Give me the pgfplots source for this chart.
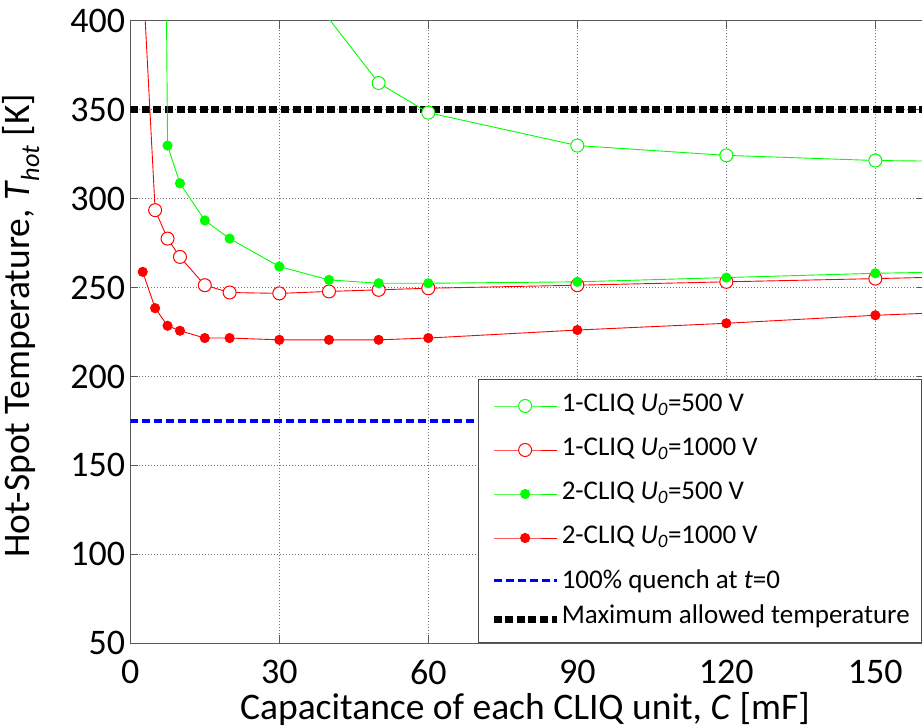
\documentclass[border=0pt]{standalone}
\usepackage{fontspec}
\setmainfont{Carlito}
\usepackage{pgfplots}
\pgfplotsset{compat=1.18}
\definecolor{mgreen}{rgb}{0,1,0}
\definecolor{mred}{rgb}{1,0,0}
\begin{document}
\begin{tikzpicture}
\begin{axis}[
  scale only axis,
  width=794.7pt, height=622.6pt,
  xmin=0, xmax=160, ymin=50, ymax=400,
  xtick={0,30,60,90,120,150},
  ytick={50,100,150,200,250,300,350,400},
  /pgf/number format/assume math mode=true,
  tick label style={font=\fontsize{36}{40}\selectfont, black},
  xticklabel style={anchor=north, inner sep=0pt, yshift=-17pt},
  yticklabel style={anchor=east, inner sep=0pt, xshift=-5pt},
  tick align=inside,
  major tick length=8pt,
  tick style={black!65, line width=1pt},
  axis line style={black!65, line width=1pt},
  grid=major,
  major grid style={black!55, line width=0.8pt, dash pattern=on 1pt off 2pt},
  xlabel={Capacitance of each CLIQ unit, \textit{C} [mF]},
  ylabel={Hot-Spot Temperature, \textit{T}\textsubscript{\textit{hot}} [K]},
  label style={font=\fontsize{37.5}{42}\selectfont},
  xlabel style={at={(axis description cs:0.5,0)}, anchor=base, yshift=-76.7pt, xshift=-2.7pt},
  ylabel style={at={(axis description cs:-0.127,0.51)}, anchor=base, rotate=0},
  legend style={at={(rel axis cs:0.4375,0.4245)}, anchor=north west,
    draw=black!70, line width=1pt, fill=white,
    font=\fontsize{27}{32}\selectfont,
    nodes={inner sep=0pt, text height=20pt, text depth=9pt},
    row sep=15pt, inner xsep=12pt, inner ysep=12pt, column sep=2pt},
  legend cell align=left,
  legend image code/.code={\draw[mark repeat=2,mark phase=2,#1] plot coordinates {(0pt,0pt) (31.5pt,0pt) (63pt,0pt)};},
]
% reference lines
\addplot[black, line width=6.3pt, dash pattern=on 8pt off 3.6pt, forget plot] coordinates {(0,350) (160,350)};
\addplot[blue, line width=3.8pt, dash pattern=on 8pt off 4pt, forget plot] coordinates {(0,175) (160,175)};

% 1-CLIQ U0=500 V
\addplot[mgreen, line width=0.9pt, mark=*, mark size=6.5pt, mark options={fill=white, draw=mgreen, line width=1pt, solid}] coordinates {
(30,437) (50,365) (60,348.3) (90,329.8) (120,324.3) (150,321.4) (180,320.5)};
\addlegendentry{1-CLIQ \textit{U}\textsubscript{\textit{0}}=500 V}
% 1-CLIQ U0=1000 V
\addplot[mred, line width=0.9pt, mark=*, mark size=6.5pt, mark options={fill=white, draw=mred, line width=1pt, solid}] coordinates {
(2.5,427) (5,293.5) (7.5,277.5) (10,267.2) (15,251.3) (20,247.2) (30,246.7) (40,247.8) (50,248.7) (60,249.6) (90,251.3) (120,253.2) (150,255.0) (180,257)};
\addlegendentry{1-CLIQ \textit{U}\textsubscript{\textit{0}}=1000 V}
% 2-CLIQ U0=500 V
\addplot[mgreen, line width=0.9pt, mark=*, mark size=4.6pt, mark options={fill=mgreen, draw=mgreen, solid}] coordinates {
(5,1200) (7.5,329.8) (10,308.6) (15,287.7) (20,277.5) (30,261.8) (40,254.3) (50,252.4) (60,252.4) (90,253.2) (120,255.6) (150,258.0) (180,259.5)};
\addlegendentry{2-CLIQ \textit{U}\textsubscript{\textit{0}}=500 V}
% 2-CLIQ U0=1000 V
\addplot[mred, line width=0.9pt, mark=*, mark size=4.6pt, mark options={fill=mred, draw=mred, solid}] coordinates {
(2.5,258.8) (5,238.4) (7.5,228.5) (10,225.7) (15,221.6) (20,221.6) (30,220.6) (40,220.6) (50,220.6) (60,221.6) (90,226.1) (120,229.9) (150,234.4) (180,237.7)};
\addlegendentry{2-CLIQ \textit{U}\textsubscript{\textit{0}}=1000 V}

\addlegendimage{blue, line width=3.8pt, dash pattern=on 8pt off 4pt}
\addlegendentry[text height=21pt, text depth=5pt]{100\% quench at \textit{t}=0}
\addlegendimage{black, line width=6.3pt, dash pattern=on 8pt off 3.6pt}
\addlegendentry[text height=15pt, text depth=7pt]{Maximum allowed temperature}

\coordinate (sw) at (rel axis cs:0,0);
\coordinate (nw) at (rel axis cs:0,1);
\end{axis}
\pgfresetboundingbox
\path[use as bounding box] ([xshift=-130.3pt,yshift=-84.7pt]sw) rectangle ([xshift=791.7pt,yshift=20.7pt]nw);
\end{tikzpicture}
\end{document}
